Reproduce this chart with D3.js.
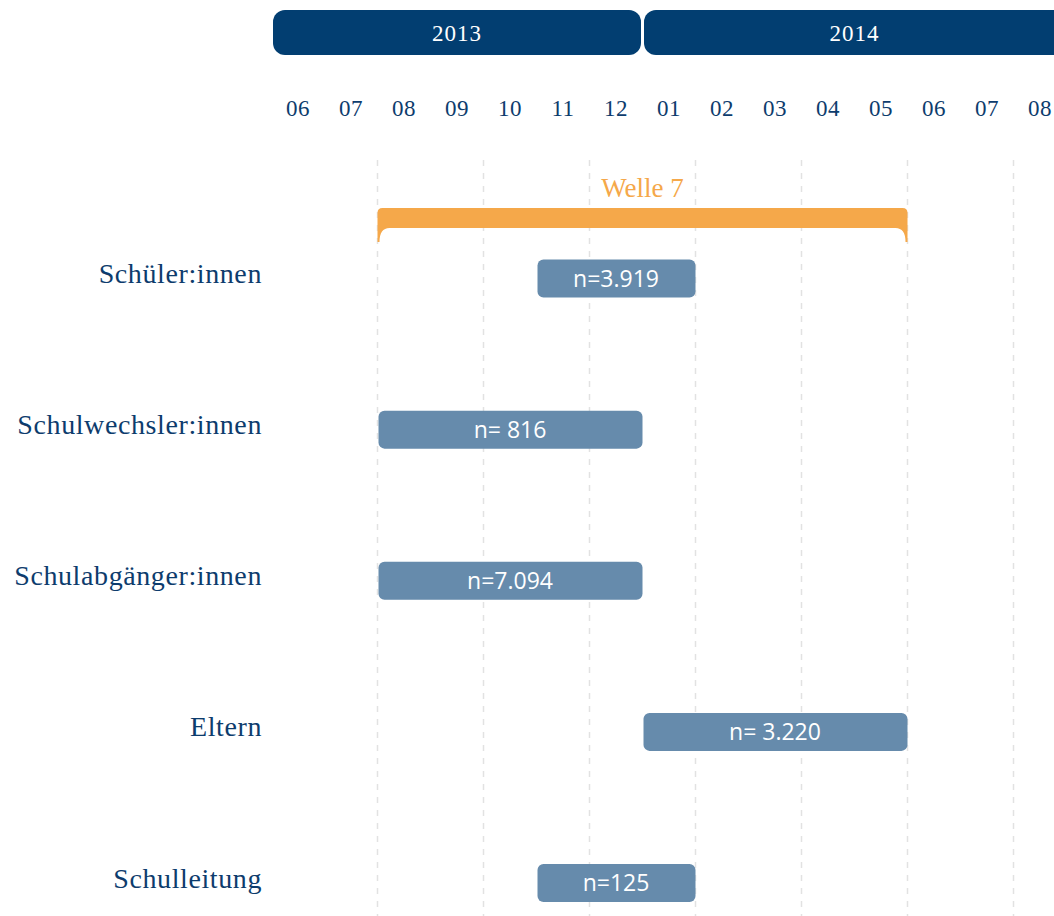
<!DOCTYPE html>
<html><head><meta charset="utf-8">
<script src="https://cdn.jsdelivr.net/npm/d3@7"></script>
<style>body{margin:0;background:#fff}svg{display:block}</style>
</head><body>
<script>
// ---- data ----
const monthLabels = ["06","07","08","09","10","11","12","01","02","03","04","05","06","07","08"];
const years = ["2013","2014"];
const yearStart = ["2013-06","2014-01"];
const yearEnd = ["2014-01","2014-09"];
const groups = ["Schüler:innen","Schulwechsler:innen","Schulabgänger:innen","Eltern","Schulleitung"];
const barStart = ["2013-11","2013-08","2013-08","2014-01","2013-11"];
const barEnd = ["2014-02","2014-01","2014-01","2014-06","2014-02"];
const barLabels = ["n=3.919","n= 816","n=7.094","n= 3.220","n=125"];
const waveLabel = "Welle 7";
const waveStart = "2013-08";
const waveEnd = "2014-06";
const gridMonths = ["2013-08","2013-10","2013-12","2014-02","2014-04","2014-06","2014-08"];

(function(){
// ---- helpers ----
const mIdx = s => { const [yy,m] = s.split("-").map(Number); return (yy-2013)*12 + (m-6); };
const W = 1054, H = 916;
const x = d3.scaleLinear().domain([0,15]).range([271.5, 1066.5]);
const y = d3.scalePoint().domain(groups).range([278.5, 883]);

const navy = "#023e71", label = "#0d3c6d", barCol = "#668bac", orange = "#f5a84a";
const serif = "'Liberation Serif','DejaVu Serif',serif";
const sans = "'Open Sans','Noto Sans',sans-serif";

const svg = d3.select("body").append("svg").attr("width",W).attr("height",H);

// gridlines
svg.append("g").selectAll("line").data(gridMonths).join("line")
  .attr("x1",d=>x(mIdx(d))).attr("x2",d=>x(mIdx(d)))
  .attr("y1",160).attr("y2",H)
  .attr("stroke","#e2e2e2").attr("stroke-width",1.5).attr("stroke-dasharray","6,7");

// year header bars
const yg = svg.append("g");
yg.selectAll("rect").data(years).join("rect")
  .attr("x",(d,i)=>x(mIdx(yearStart[i]))+1.5)
  .attr("width",(d,i)=>x(mIdx(yearEnd[i]))-x(mIdx(yearStart[i]))-3)
  .attr("y",10).attr("height",45).attr("rx",12)
  .attr("fill",navy);
yg.selectAll("text").data(years).join("text")
  .attr("x",(d,i)=>(x(mIdx(yearStart[i]))+x(mIdx(yearEnd[i])))/2)
  .attr("y",41).attr("text-anchor","middle")
  .attr("fill","#fff").attr("font-family",serif).attr("font-size",23)
  .attr("letter-spacing",1)
  .text(d=>d);

// month labels
svg.append("g").selectAll("text").data(monthLabels).join("text")
  .attr("x",(d,i)=>x(i+0.5)).attr("y",116)
  .attr("text-anchor","middle").attr("fill",label)
  .attr("font-family",serif).attr("font-size",23)
  .attr("letter-spacing",0.5)
  .text(d=>d);

// wave bracket
const wx0 = x(mIdx(waveStart)), wx1 = x(mIdx(waveEnd));
const bTop = 208, bInner = 228, bFoot = 242, r = 5;
const p = d3.path();
p.moveTo(wx0, bFoot);
p.lineTo(wx0, bTop + r);
p.quadraticCurveTo(wx0, bTop, wx0 + r, bTop);
p.lineTo(wx1 - r, bTop);
p.quadraticCurveTo(wx1, bTop, wx1, bTop + r);
p.lineTo(wx1, bFoot);
p.lineTo(wx1 - 2, bFoot);
p.quadraticCurveTo(wx1 - 2, bInner, wx1 - 12, bInner);
p.lineTo(wx0 + 12, bInner);
p.quadraticCurveTo(wx0 + 2, bInner, wx0 + 2, bFoot);
p.closePath();
svg.append("path").attr("d",p.toString()).attr("fill",orange);
svg.append("text").attr("x",(wx0+wx1)/2).attr("y",197)
  .attr("text-anchor","middle").attr("fill",orange)
  .attr("font-family",serif).attr("font-size",27).text(waveLabel);

// row labels
svg.append("g").selectAll("text").data(groups).join("text")
  .attr("x",262).attr("y",d=>y(d)+4.5)
  .attr("text-anchor","end")
  .attr("fill",label).attr("font-family",serif).attr("font-size",28)
  .attr("letter-spacing",0.6)
  .text(d=>d);

// bars
const bg = svg.append("g");
bg.selectAll("rect").data(groups).join("rect")
  .attr("x",(d,i)=>x(mIdx(barStart[i]))+1)
  .attr("width",(d,i)=>x(mIdx(barEnd[i]))-x(mIdx(barStart[i]))-1)
  .attr("y",d=>y(d)-19).attr("height",38).attr("rx",6)
  .attr("fill",barCol);
bg.selectAll("text").data(groups).join("text")
  .attr("x",(d,i)=>(x(mIdx(barStart[i]))+x(mIdx(barEnd[i])))/2)
  .attr("y",d=>y(d)+8)
  .attr("text-anchor","middle")
  .attr("fill","#fff").attr("font-family",sans).attr("font-size",23)
  .text((d,i)=>barLabels[i]);
})();
</script>
</body></html>
